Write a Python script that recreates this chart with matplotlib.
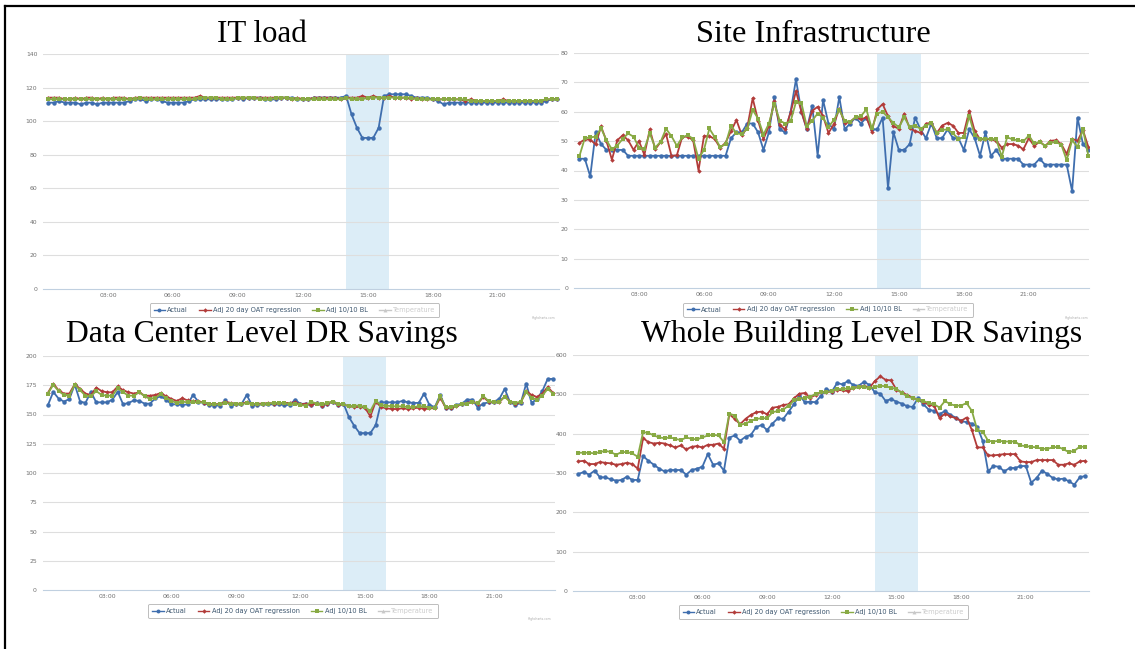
import matplotlib
matplotlib.use("Agg")
import matplotlib.pyplot as plt
import numpy as np
from matplotlib.lines import Line2D

W, H = 1135, 649

# 15-minute readings, 00:15 .. 23:45
hours = np.arange(1, 96) * 0.25

# --- IT load (kW) ---
it_actual = [111, 111, 112, 111, 111, 111, 110, 111, 111, 110,
             111, 111, 111, 111, 111, 112, 113, 113, 112, 113,
             113, 112, 111, 111, 111, 111, 112, 113, 113, 113,
             113, 113, 113, 113, 113, 114, 113, 114, 114, 114,
             113, 113, 113, 114, 114, 114, 113, 113, 113, 114,
             114, 114, 114, 114, 114, 115, 104, 96, 90, 90,
             90, 96, 115, 116, 116, 116, 116, 115, 114, 114,
             114, 113, 112, 110, 111, 111, 111, 111, 111, 111,
             111, 111, 111, 111, 111, 111, 111, 111, 111, 111,
             111, 111, 112, 113, 113]
it_oat = [114, 114, 114, 113, 113, 114, 113, 114, 114, 113,
          114, 113, 114, 114, 114, 113, 114, 114, 114, 114,
          114, 114, 114, 114, 114, 114, 114, 114, 115, 114,
          114, 114, 114, 114, 114, 114, 114, 114, 114, 114,
          114, 114, 114, 114, 114, 113, 114, 113, 113, 114,
          114, 114, 114, 114, 113, 114, 114, 114, 115, 114,
          115, 114, 114, 115, 114, 114, 114, 113, 114, 113,
          113, 113, 113, 113, 113, 113, 113, 112, 113, 112,
          112, 112, 112, 112, 113, 112, 112, 112, 112, 112,
          112, 112, 113, 113, 113]
it_bl = [113, 113, 113, 113, 113, 113, 113, 113, 113, 113,
         113, 113, 113, 113, 113, 113, 113, 114, 113, 113,
         113, 113, 113, 113, 113, 113, 113, 113, 114, 114,
         114, 114, 113, 113, 113, 114, 114, 114, 114, 113,
         113, 113, 114, 114, 114, 113, 113, 113, 113, 113,
         113, 113, 113, 113, 113, 114, 113, 113, 113, 114,
         114, 114, 114, 114, 114, 114, 114, 114, 113, 113,
         113, 113, 113, 113, 113, 113, 113, 113, 112, 112,
         112, 112, 112, 112, 112, 112, 112, 112, 112, 112,
         112, 112, 113, 113, 113]

# --- Site infrastructure (kW) ---
site_actual = [44, 44, 38, 53, 49, 47, 47, 47, 47, 45,
               45, 45, 45, 45, 45, 45, 45, 45, 45, 45,
               45, 45, 45, 45, 45, 45, 45, 45, 51, 53,
               53, 56, 56, 53, 47, 53, 65, 54, 53, 60,
               71, 60, 54, 62, 45, 64, 56, 54, 65, 54,
               56, 58, 56, 58, 54, 54, 58, 34, 53, 47,
               47, 49, 58, 54, 51, 56, 51, 51, 54, 51,
               51, 47, 54, 51, 45, 53, 45, 47, 44, 44,
               44, 44, 42, 42, 42, 44, 42, 42, 42, 42,
               42, 33, 58, 49, 47]
site_oat = [49.4, 50.6, 50.5, 48.9, 55, 50, 43.7, 50.3, 52, 50.3,
            47, 50, 45.3, 54, 47.2, 49.7, 52.4, 45, 45.2, 51.5,
            51.5, 50.3, 40, 51.7, 51.7, 50.7, 47.7, 49.5, 53.4, 57.2,
            52, 54.6, 64.6, 57, 50.7, 55.2, 63.5, 55.5, 54, 59.7,
            67, 60, 54.2, 60.3, 61.7, 58.5, 52.8, 55.7, 61.1, 56.2,
            56.6, 58.1, 57.4, 58.1, 53.2, 60.8, 62.6, 58.5, 55.1, 54.2,
            59.4, 54.3, 53.5, 52.8, 56, 56.2, 52.8, 55.3, 56.2, 55.3,
            52.8, 52.8, 60.3, 53.5, 50.6, 50.8, 50.6, 50.1, 47.8, 49,
            49, 48.5, 47.2, 51, 48.3, 49.9, 48.3, 50.1, 50.3, 49,
            45.6, 50.8, 50.1, 53.8, 48]
site_bl = [44.9, 51, 51.3, 51.5, 54.4, 50.3, 47.2, 48.5, 50.8, 52.6,
           51.5, 47.8, 47.4, 52.6, 47.8, 49.8, 54.2, 51.7, 48.4, 51.3,
           52, 50.8, 44, 47, 54.3, 51.3, 48, 49, 55.3, 52.6,
           52.4, 54.2, 60.6, 57.7, 52.2, 56, 62.8, 57, 56, 56.7,
           63.3, 63, 55, 57, 59.4, 58, 54.8, 57.2, 60.6, 56.9,
           56.6, 58.1, 58.5, 60.8, 54.3, 59.4, 60, 58.1, 56.2, 54.7,
           58.1, 54.9, 55.3, 54.2, 55.3, 56.2, 52.8, 53.8, 54, 52.6,
           50.8, 51.3, 58.5, 52, 50.8, 50.8, 50.8, 50.6, 44.7, 51.3,
           50.6, 50.3, 49.9, 51.9, 49.2, 49.7, 48.5, 49.4, 49.7, 48.8,
           43.5, 50.3, 48, 54, 45]

# --- Data center level (kW) ---
dc_actual = [157.9, 169.3, 163.6, 161, 163.3, 175.6, 161, 160, 169.3, 160.4,
             160.4, 160.4, 162.7, 169.3, 158.7, 159.9, 162, 161.6, 159.3, 159.3,
             163.9, 165.6, 162.7, 158.7, 158.7, 158.1, 158.7, 166.7, 161, 159.9,
             158.1, 157.6, 157.6, 162, 157.6, 158.7, 158.7, 166.7, 157.6, 158.1,
             158.7, 158.7, 158.7, 158.7, 158.1, 158.1, 162.7, 159, 159.3, 158.1,
             159.9, 157.6, 159.3, 161, 158.1, 159.4, 147.9, 140.4, 134.1, 134.1,
             134.1, 141, 160.4, 160.4, 160.4, 160.4, 161.6, 160.4, 159.9, 159.9,
             167.9, 158.1, 156.4, 166.7, 155.9, 155.9, 158.1, 159.3, 162.7, 162.7,
             155.9, 159.3, 160.4, 161, 163.3, 171.9, 160.4, 158.1, 159.9, 176.4,
             159.9, 163.3, 170, 180.4, 180.4]
dc_oat = [168.4, 176.4, 170.7, 167.9, 167.9, 175.9, 171.9, 167.9, 166.7, 173,
          170, 169, 169, 174, 170.7, 169, 167.9, 169, 166.1, 166.1,
          166.7, 168.4, 165.6, 163.3, 161.6, 163.9, 162, 161.6, 161.6, 159.9,
          159.3, 158.7, 159.3, 161, 159.9, 159.3, 159.3, 160.4, 158.7, 159.3,
          159.3, 159.9, 159.3, 159.9, 159.9, 159.9, 160.4, 158.7, 159.3, 158.1,
          159.9, 157.6, 159.3, 161, 158.1, 158.7, 157, 156.4, 156.4, 155.9,
          148.4, 161, 156.4, 155.3, 154.7, 154.7, 155.3, 154.7, 155.3, 155.9,
          154.7, 155.3, 155.3, 164.4, 155.9, 155.3, 157, 158.7, 159.9, 161,
          159.3, 165, 161, 160.4, 160.4, 165.6, 161, 159.3, 160.4, 170,
          166.7, 165, 167.9, 173.6, 168.4]
dc_bl = [167.9, 175.3, 170, 166.7, 166.1, 175.3, 170.7, 166.1, 165.6, 170,
         166.7, 166.1, 166.1, 172.4, 169, 166.1, 166.1, 169, 165.6, 163.3,
         164.4, 167.3, 164.4, 161.6, 159.9, 161, 160.4, 160.4, 160.4, 160.4,
         158.7, 158.7, 158.7, 159.9, 159.3, 159.3, 158.7, 159.9, 159.3, 158.7,
         158.7, 159.3, 159.9, 159.9, 159.9, 158.7, 159.3, 158, 157.6, 161,
         159.3, 158.7, 159.9, 161, 159.3, 158.7, 157, 157.6, 157.6, 156.4,
         153, 161.6, 158.1, 157.6, 157, 157, 157, 156.4, 156.4, 157,
         157, 155.9, 155.9, 165.6, 156.4, 156.4, 157.6, 158.7, 159.3, 160.4,
         159.9, 165.6, 161.6, 160.4, 161, 165, 161, 159.9, 161, 169,
         164.4, 162.7, 166.1, 171.9, 167.9]

# --- Whole building level (kW) ---
wb_actual = [297.5, 302.5, 295.8, 305.9, 289, 289, 284, 280.6, 282.3, 290.7,
             282.3, 282.3, 343, 331, 321, 311, 304, 307.6, 307.6, 307.6,
             295.8, 307.6, 311, 316, 348, 321, 324.5, 306, 390, 395.4,
             382, 392, 397, 417, 422, 409, 425.7, 439, 437.5, 456,
             474.7, 498, 480, 481, 480, 496.6, 513.5, 506.8, 528.7, 525.3,
             533.8, 523.6, 522, 532, 523.6, 505, 501.7, 483, 488, 481.4,
             476.4, 469.6, 468, 490, 474.7, 461, 457.8, 449.4, 457.8, 447.7,
             441, 432.5, 429, 425.7, 417.3, 381.9, 304.2, 317.7, 316, 304.2,
             312.7, 312.7, 317.7, 317.7, 275.5, 287.3, 305.9, 297.5, 287.3, 284,
             285.6, 278.9, 270.4, 289, 292.4]
wb_oat = [329.5, 331, 322.8, 322.8, 327.8, 326, 324.5, 321, 322.8, 326,
          322.8, 311, 388.6, 378.5, 375, 376.8, 375, 370, 365, 370,
          360, 366.7, 368.4, 365, 371.7, 371.7, 375, 361.6, 449.4, 437.5,
          424, 437.5, 447.7, 454.4, 456, 449.4, 466, 468, 473, 474.7,
          490, 501.7, 503.4, 491.6, 498.3, 505, 506, 506.8, 511.8, 510,
          508.4, 516.9, 518.6, 522, 516.9, 533.8, 545.6, 537, 535.4, 511.8,
          505, 498.3, 491.6, 486.5, 481.4, 473, 471.3, 439.2, 451, 444.3,
          439.2, 432.5, 441, 408.9, 365, 365, 344.7, 344.7, 346.4, 348,
          348, 348, 329.5, 327.8, 327.8, 332.9, 332.9, 332.9, 332.9, 321,
          321, 324.5, 321, 329.5, 331]
wb_bl = [351.5, 351.5, 351.5, 349.8, 353.2, 356.5, 353.2, 346.4, 353.2, 353.2,
         349.8, 341.4, 403.8, 402, 395.4, 390.3, 388.6, 390.3, 387, 383.5,
         390.3, 387, 385.3, 390.3, 395.4, 397, 395.4, 378.5, 451, 446,
         422.4, 425.7, 432.5, 437.5, 439.2, 439.2, 454.4, 457.8, 461.2, 471.3,
         484.8, 488.2, 491.6, 493.2, 501.7, 505, 506, 508.4, 513.5, 513.5,
         515.2, 515.2, 518.6, 518.6, 515.2, 518.6, 522, 520.3, 516.9, 513.5,
         503.4, 495, 490, 486.5, 483, 478, 474.7, 466.2, 483, 474.7,
         471.3, 471.3, 478, 457.8, 408.9, 405.5, 381.9, 380, 381.9, 380,
         380, 380, 370, 368.4, 366.7, 365, 361.6, 361.6, 365, 366.7,
         360, 353.2, 356.5, 366.7, 366.7]

event_start, event_end = 14, 16
xticks = [3, 6, 9, 12, 15, 18, 21]
xtick_labels = ["03:00", "06:00", "09:00", "12:00", "15:00", "18:00", "21:00"]
series_names = ["Actual", "Adj 20 day OAT regression", "Adj 10/10 BL", "Temperature"]

BLUE, RED, GREEN, GREY = "#3f6eae", "#b23c3a", "#88aa44", "#c8c8c8"

panels = [
    dict(title="IT load", data=(it_actual, it_oat, it_bl),
         rect=(43, 54, 559, 289), xmax=23.83, ymax=140, ystep=20,
         title_x=(217, 307), title_y=42, legend=(294.5, 310.5), credit=(544, 318)),
    dict(title="Site Infrastructure", data=(site_actual, site_oat, site_bl),
         rect=(574, 53, 1089, 288), xmax=23.78, ymax=80, ystep=10,
         title_x=(696, 930), title_y=42, legend=(828, 309.5), credit=(1077, 318)),
    dict(title="Data Center Level DR Savings", data=(dc_actual, dc_oat, dc_bl),
         rect=(42.5, 356, 555, 590), xmax=23.84, ymax=200, ystep=25,
         title_x=(66, 457), title_y=342, legend=(293, 611), credit=(540, 619)),
    dict(title="Whole Building Level DR Savings", data=(wb_actual, wb_oat, wb_bl),
         rect=(573, 355, 1089, 591), xmax=23.93, ymax=600, ystep=100,
         title_x=(641, 1082), title_y=342, legend=(823.5, 612), credit=None),
]

fig = plt.figure(figsize=(W / 100, H / 100), dpi=100)


def fx(px):
    return px / W


def fy(py):
    return 1 - py / H


for p in panels:
    x0, y0, x1, y1 = p["rect"]
    ax = fig.add_axes([fx(x0), fy(y1), (x1 - x0) / W, (y1 - y0) / H])
    ax.set_xlim(0, p["xmax"])
    ax.set_ylim(0, p["ymax"])
    ax.axvspan(event_start, event_end, color="#dcedf7", lw=0, zorder=0)

    actual, oat, bl = p["data"]
    ax.plot(hours, actual, color=BLUE, lw=1.3, marker="o", ms=3.2, mew=0, zorder=3)
    ax.plot(hours, oat, color=RED, lw=1.3, marker="D", ms=2.3, mew=0, zorder=4)
    ax.plot(hours, bl, color=GREEN, lw=1.3, marker="s", ms=2.3, mew=0, zorder=5)

    yt = np.arange(0, p["ymax"] + 1, p["ystep"])
    ax.set_yticks(yt)
    ax.set_yticklabels([str(int(v)) for v in yt])
    ax.set_xticks(xticks)
    ax.set_xticklabels(xtick_labels)
    ax.tick_params(length=0, labelsize=4.4, labelcolor="#707070")
    ax.tick_params(axis="y", pad=4)
    ax.tick_params(axis="x", pad=3)
    for v in yt[1:]:
        ax.axhline(v, color="#dedede", lw=0.8, zorder=1)
    for s in ["top", "right", "left"]:
        ax.spines[s].set_visible(False)
    ax.spines["bottom"].set_color("#c0d0e0")
    ax.spines["bottom"].set_linewidth(0.8)
    ax.set_facecolor("none")

    handles = [
        Line2D([], [], color=BLUE, lw=1.0, marker="o", ms=2.8, mew=0),
        Line2D([], [], color=RED, lw=1.0, marker="D", ms=2.3, mew=0),
        Line2D([], [], color=GREEN, lw=1.0, marker="s", ms=2.3, mew=0),
        Line2D([], [], color=GREY, lw=1.0, marker="^", ms=2.8, mew=0),
    ]
    lx, ly = p["legend"]
    leg = ax.legend(handles, series_names, loc="center", ncol=4,
                    bbox_to_anchor=(fx(lx), fy(ly)), bbox_transform=fig.transFigure,
                    fontsize=4.8, frameon=True, fancybox=True, handlelength=1.7,
                    handletextpad=0.35, columnspacing=1.7, borderpad=0.6,
                    borderaxespad=0)
    leg.get_frame().set_edgecolor("#a0a0a0")
    leg.get_frame().set_linewidth(0.6)
    for i, t in enumerate(leg.get_texts()):
        t.set_color("#cccccc" if i == 3 else "#3e576f")

    if p["credit"]:
        cx, cy = p["credit"]
        fig.text(fx(cx), fy(cy), "Highcharts.com", fontsize=2.2, color="#aaaaaa",
                 ha="center", va="center")

# titles, fitted to the width they take in the picture
fig.canvas.draw()
renderer = fig.canvas.get_renderer()
for p in panels:
    a, b = p["title_x"]
    t = fig.text(fx((a + b) / 2), fy(p["title_y"]), p["title"], fontsize=22,
                 family="Liberation Serif", ha="center", va="baseline", color="black")
    w = t.get_window_extent(renderer).width
    t.set_fontsize(22 * (b - a) / w)

# outer frame
fig.add_artist(Line2D([fx(5), 1], [fy(6), fy(6)], color="black", lw=1.6))
fig.add_artist(Line2D([fx(5), fx(5)], [fy(6), 0], color="black", lw=1.6))

fig.savefig("out.png", dpi=100)
